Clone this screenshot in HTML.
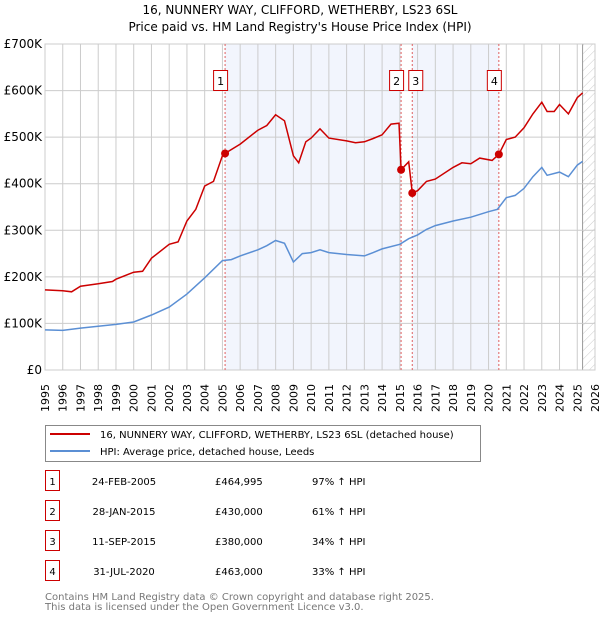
<!DOCTYPE html>
<html><head><meta charset="utf-8"><style>
body{margin:0;background:#fff;font-family:"Liberation Sans","DejaVu Sans",sans-serif}
svg text{font-family:"DejaVu Sans","Liberation Sans",sans-serif}
</style></head><body>
<svg id="c" width="600" height="620" xmlns="http://www.w3.org/2000/svg">
<defs><pattern id="hatch" width="6" height="6" patternUnits="userSpaceOnUse" patternTransform="rotate(45)"><line x1="0" y1="0" x2="0" y2="6" stroke="#ccc" stroke-width="1"/></pattern></defs>
<text x="300" y="14" text-anchor="middle" font-size="12">16, NUNNERY WAY, CLIFFORD, WETHERBY, LS23 6SL</text>
<text x="300" y="31" text-anchor="middle" font-size="12">Price paid vs. HM Land Registry's House Price Index (HPI)</text>
<g id="plot"></g>
<g>
<rect x="45.5" y="425.5" width="435" height="36" fill="#fff" stroke="#888"/>
<line x1="50" y1="434" x2="90" y2="434" stroke="#cc0000" stroke-width="2"/>
<text x="100" y="438" font-size="10">16, NUNNERY WAY, CLIFFORD, WETHERBY, LS23 6SL (detached house)</text>
<line x1="50" y1="451" x2="90" y2="451" stroke="#5b8fd4" stroke-width="2"/>
<text x="100" y="455" font-size="10">HPI: Average price, detached house, Leeds</text>
</g>
<g id="table" font-size="10"></g>
<text x="45" y="600" font-size="10" fill="#777">Contains HM Land Registry data © Crown copyright and database right 2025.</text>
<text x="45" y="610" font-size="10" fill="#777">This data is licensed under the Open Government Licence v3.0.</text>
</svg>
<script>
const yTicks=[0,100,200,300,400,500,600,700];
const yTickLabels=["£0","£100K","£200K","£300K","£400K","£500K","£600K","£700K"];
const years=[1995,1996,1997,1998,1999,2000,2001,2002,2003,2004,2005,2006,2007,2008,2009,2010,2011,2012,2013,2014,2015,2016,2017,2018,2019,2020,2021,2022,2023,2024,2025,2026];
const hpiT=[1995,1996,1997,1998,1999,2000,2001,2002,2003,2004,2005,2005.5,2006,2007,2007.5,2008,2008.5,2009,2009.5,2010,2010.5,2011,2012,2013,2013.5,2014,2015,2015.5,2016,2016.5,2017,2018,2019,2020,2020.5,2021,2021.5,2022,2022.5,2023,2023.3,2024,2024.5,2025,2025.3];
const hpiV=[86,85,90,94,98,103,118,135,163,198,235,237,245,258,267,278,272,232,250,252,258,252,248,245,252,260,270,282,290,302,310,320,328,340,345,370,375,390,415,435,418,425,415,440,448];
const propT=[1995,1996,1996.5,1997,1998,1998.8,1999,2000,2000.5,2001,2002,2002.5,2003,2003.5,2004,2004.5,2005,2005.15,2006,2007,2007.5,2008,2008.5,2009,2009.3,2009.7,2010,2010.5,2011,2012,2012.5,2013,2013.5,2014,2014.5,2014.95,2015.07,2015.5,2015.7,2016,2016.5,2017,2018,2018.5,2019,2019.5,2020.2,2020.58,2021,2021.5,2022,2022.5,2023,2023.3,2023.7,2024,2024.5,2025,2025.3];
const propV=[172,170,168,180,185,190,195,210,212,240,270,275,320,345,395,405,460,465,485,515,525,548,535,460,445,490,498,518,498,492,488,490,497,505,528,530,430,447,380,385,405,410,435,445,443,455,450,463,495,500,520,550,575,555,555,570,550,585,595];
const saleT=[2005.15,2015.07,2015.7,2020.58];
const saleV=[464.995,430,380,463];
const saleLabels=["1","2","3","4"];
const saleDates=["24-FEB-2005","28-JAN-2015","11-SEP-2015","31-JUL-2020"];
const salePrices=["£464,995","£430,000","£380,000","£463,000"];
const saleHpi=["97% ↑ HPI","61% ↑ HPI","34% ↑ HPI","33% ↑ HPI"];
const NS="http://www.w3.org/2000/svg";
const X0=45,X1=595,Y0=370,Y1=44;
function xs(t){return X0+(t-1995)/(2026-1995)*(X1-X0);}
function ys(v){return Y0-v/700*(Y0-Y1);}
function mk(tag,at,parent){const e=document.createElementNS(NS,tag);for(const k in at)e.setAttribute(k,at[k]);parent.appendChild(e);return e;}
const P=document.getElementById('plot');
let sh=mk('rect',{x:xs(saleT[0]),y:Y1,width:xs(saleT[1])-xs(saleT[0]),height:Y0-Y1,fill:'#f2f5fd'},P);


sh=mk('rect',{x:xs(saleT[2]),y:Y1,width:xs(saleT[3])-xs(saleT[2]),height:Y0-Y1,fill:'#f2f5fd'},P);


const hx=xs(2025.3);
let ht=mk('rect',{x:hx,y:Y1,width:X1-hx,height:Y0-Y1,fill:'url(#hatch)'},P);


mk('line',{x1:hx,y1:Y1,x2:hx,y2:Y0,stroke:'#999','stroke-width':1},P);
years.forEach(y=>{mk('line',{x1:xs(y),y1:Y1,x2:xs(y),y2:Y0,stroke:'#ccc','stroke-width':1},P);
 const t=mk('text',{x:0,y:0,'font-size':11,transform:`translate(${xs(y)+4},${Y0+42}) rotate(-90)`},P);t.textContent=y;
 
 });
yTicks.forEach((v,i)=>{mk('line',{x1:X0,y1:ys(v),x2:X1,y2:ys(v),stroke:'#ccc','stroke-width':1},P);
 const t=mk('text',{x:X0-3,y:ys(v)+4,'font-size':12,'text-anchor':'end'},P);t.textContent=yTickLabels[i];
 
 });
mk('rect',{x:X0,y:Y1,width:X1-X0,height:Y0-Y1,fill:'none',stroke:'#ccc'},P);
saleT.forEach((t,i)=>{mk('line',{x1:xs(t),y1:Y1,x2:xs(t),y2:Y0,stroke:'#e06060','stroke-dasharray':'2,2','stroke-width':1},P);});
function path(T,V,col,name){const d=T.map((t,i)=>(i?'L':'M')+xs(t).toFixed(1)+','+ys(V[i]).toFixed(1)).join('');
 const p=mk('path',{d:d,fill:'none',stroke:col,'stroke-width':1.5},P);
 
 }
path(hpiT,hpiV,'#5b8fd4','hpi-line');
path(propT,propV,'#cc0000','property-line');
saleT.forEach((t,i)=>{const c=mk('circle',{cx:xs(t),cy:ys(saleV[i]),r:4,fill:'#cc0000'},P);
 
 
 const bx=(i===1?xs(t)-12:i===2?xs(t)-4:xs(t)-12);
 const b=mk('g',{},P);
 
 
 mk('rect',{x:bx+0.5,y:70.5,width:14,height:20,fill:'#fff',stroke:'#cc0000'},b);
 const tx=mk('text',{x:bx+7.5,y:85,'font-size':11,'text-anchor':'middle'},b);tx.textContent=saleLabels[i];});
const T=document.getElementById('table');
saleLabels.forEach((l,i)=>{const y=483+i*30;
 const g=mk('g',{},T);
 
 
 mk('rect',{x:45.5,y:y-12.5,width:14,height:20,fill:'#fff',stroke:'#cc0000'},g);
 let t=mk('text',{x:52.5,y:y+2,'text-anchor':'middle'},g);t.textContent=l;
 t=mk('text',{x:124,y:y+2,'text-anchor':'middle'},g);t.textContent=saleDates[i];
 t=mk('text',{x:215,y:y+2},g);t.textContent=salePrices[i];
 t=mk('text',{x:312,y:y+2},g);t.textContent=saleHpi[i];});
</script>
</body></html>
